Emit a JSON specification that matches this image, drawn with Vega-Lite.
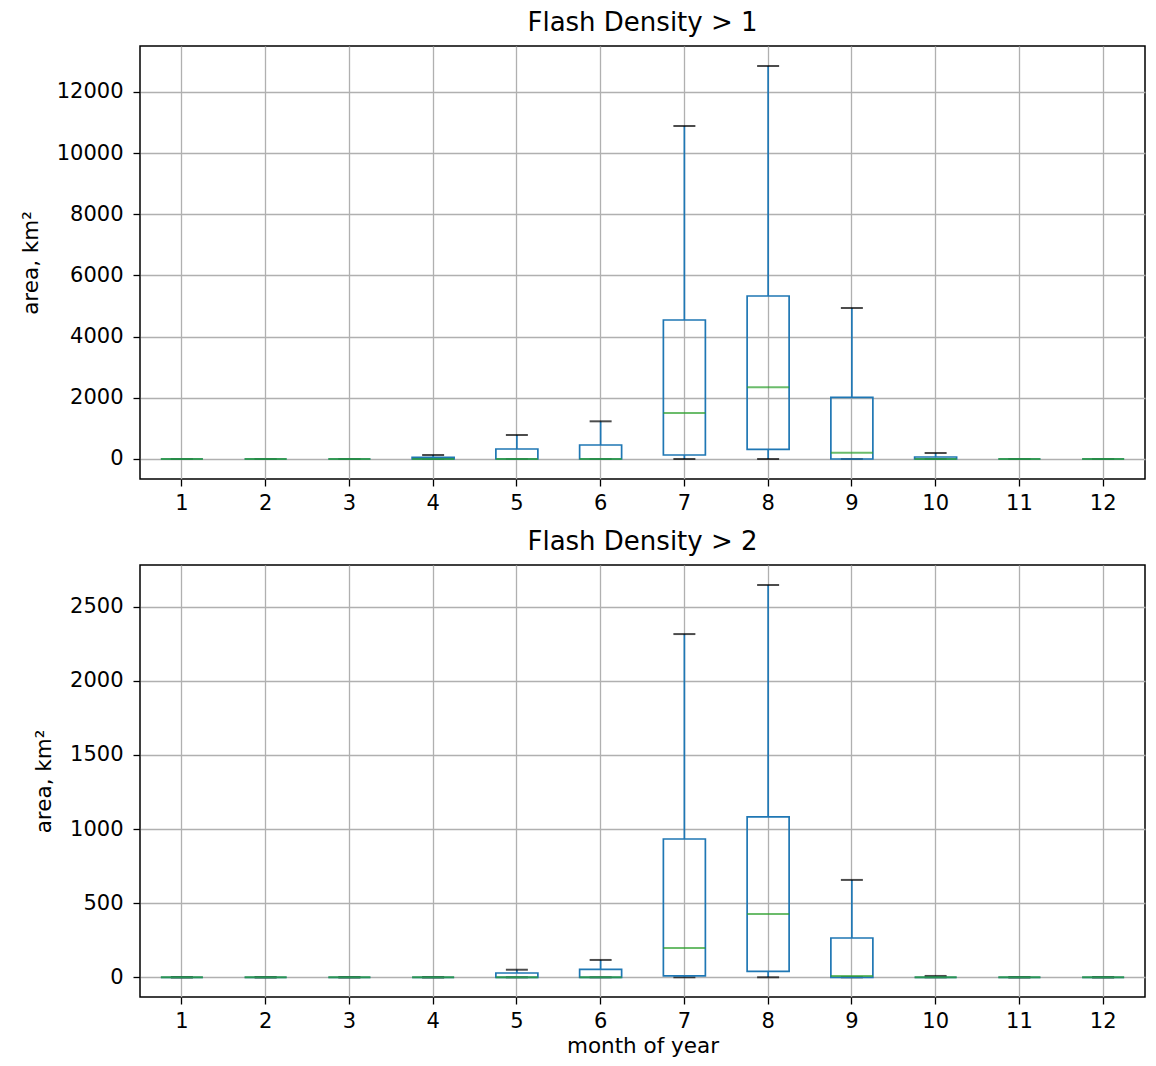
{
  "$schema": "https://vega.github.io/schema/vega-lite/v6.json",
  "background": "white",
  "padding": {"left": 19, "top": 9, "right": 5, "bottom": 5},
  "spacing": 14,
  "config": {
    "font": "DejaVu Sans",
    "view": {"stroke": "#000000", "strokeWidth": 1.5},
    "axis": {
      "labelFont": "DejaVu Sans",
      "labelFontSize": 21,
      "labelColor": "#000000",
      "titleFont": "DejaVu Sans",
      "titleFontSize": 21.5,
      "titleFontWeight": "normal",
      "titleColor": "#000000",
      "domain": false,
      "grid": true,
      "gridColor": "#b0b0b0",
      "gridWidth": 1.3,
      "tickColor": "#000000",
      "tickSize": 7,
      "tickWidth": 1.3
    },
    "axisY": {"labelPadding": 10, "format": "d"},
    "axisX": {"labelPadding": 6},
    "title": {"font": "DejaVu Sans", "fontSize": 26, "fontWeight": "normal", "color": "#000000", "offset": 10}
  },
  "datasets": {
    "d1": [
      {"month": 1, "min": 0, "q1": 0, "median": 0, "q3": 0, "max": 0},
      {"month": 2, "min": 0, "q1": 0, "median": 0, "q3": 0, "max": 0},
      {"month": 3, "min": 0, "q1": 0, "median": 0, "q3": 0, "max": 0},
      {"month": 4, "min": 0, "q1": 0, "median": 0, "q3": 50, "max": 130},
      {"month": 5, "min": 0, "q1": 0, "median": 0, "q3": 327, "max": 785},
      {"month": 6, "min": 0, "q1": 0, "median": 0, "q3": 458, "max": 1232},
      {"month": 7, "min": 0, "q1": 131, "median": 1504, "q3": 4545, "max": 10888},
      {"month": 8, "min": 0, "q1": 317, "median": 2344, "q3": 5330, "max": 12850},
      {"month": 9, "min": 0, "q1": 0, "median": 206, "q3": 2017, "max": 4937},
      {"month": 10, "min": 0, "q1": 0, "median": 0, "q3": 65, "max": 196},
      {"month": 11, "min": 0, "q1": 0, "median": 0, "q3": 0, "max": 0},
      {"month": 12, "min": 0, "q1": 0, "median": 0, "q3": 0, "max": 0}
    ],
    "d2": [
      {"month": 1, "min": 0, "q1": 0, "median": 0, "q3": 0, "max": 0},
      {"month": 2, "min": 0, "q1": 0, "median": 0, "q3": 0, "max": 0},
      {"month": 3, "min": 0, "q1": 0, "median": 0, "q3": 0, "max": 0},
      {"month": 4, "min": 0, "q1": 0, "median": 0, "q3": 0, "max": 0},
      {"month": 5, "min": 0, "q1": 0, "median": 0, "q3": 29, "max": 51},
      {"month": 6, "min": 0, "q1": 0, "median": 0, "q3": 54, "max": 117},
      {"month": 7, "min": 0, "q1": 9, "median": 198, "q3": 933, "max": 2316},
      {"month": 8, "min": 0, "q1": 40, "median": 427, "q3": 1083, "max": 2647},
      {"month": 9, "min": 0, "q1": 0, "median": 9, "q3": 265, "max": 657},
      {"month": 10, "min": 0, "q1": 0, "median": 0, "q3": 0, "max": 9},
      {"month": 11, "min": 0, "q1": 0, "median": 0, "q3": 0, "max": 0},
      {"month": 12, "min": 0, "q1": 0, "median": 0, "q3": 0, "max": 0}
    ]
  },
  "vconcat": [
    {
      "title": "Flash Density > 1",
      "width": 1005,
      "height": 433,
      "data": {"name": "d1"},
      "encoding": {
        "x": {"field": "month", "type": "ordinal", "scale": {"paddingInner": 0, "paddingOuter": 0}, "axis": {"labelAngle": 0, "title": null}}
      },
      "layer": [
        {
          "mark": {"type": "rule", "color": "#1f77b4", "strokeWidth": 1.7},
          "encoding": {
            "y": {"field": "min", "type": "quantitative", "scale": {"domain": [-654, 13504], "nice": false, "zero": false}, "axis": {"values": [0, 2000, 4000, 6000, 8000, 10000, 12000], "title": "area, km²", "titlePadding": 14}},
            "y2": {"field": "q1"}
          }
        },
        {
          "mark": {"type": "rule", "color": "#1f77b4", "strokeWidth": 1.7},
          "encoding": {"y": {"field": "q3", "type": "quantitative"}, "y2": {"field": "max"}}
        },
        {
          "mark": {"type": "tick", "color": "#000000", "size": 22, "thickness": 2},
          "encoding": {"y": {"field": "max", "type": "quantitative"}}
        },
        {
          "mark": {"type": "tick", "color": "#000000", "size": 22, "thickness": 2},
          "encoding": {"y": {"field": "min", "type": "quantitative"}}
        },
        {
          "mark": {"type": "bar", "fill": null, "fillOpacity": 0, "stroke": "#1f77b4", "strokeWidth": 1.7, "size": 42},
          "encoding": {"y": {"field": "q1", "type": "quantitative"}, "y2": {"field": "q3"}}
        },
        {
          "mark": {"type": "tick", "color": "#2ca02c", "size": 42, "thickness": 2},
          "encoding": {"y": {"field": "median", "type": "quantitative"}}
        }
      ]
    },
    {
      "title": "Flash Density > 2",
      "width": 1005,
      "height": 432,
      "data": {"name": "d2"},
      "encoding": {
        "x": {"field": "month", "type": "ordinal", "scale": {"paddingInner": 0, "paddingOuter": 0}, "axis": {"labelAngle": 0, "title": "month of year", "titlePadding": 4}}
      },
      "layer": [
        {
          "mark": {"type": "rule", "color": "#1f77b4", "strokeWidth": 1.7},
          "encoding": {
            "y": {"field": "min", "type": "quantitative", "scale": {"domain": [-133, 2782], "nice": false, "zero": false}, "axis": {"values": [0, 500, 1000, 1500, 2000, 2500], "title": "area, km²", "titlePadding": 14}},
            "y2": {"field": "q1"}
          }
        },
        {
          "mark": {"type": "rule", "color": "#1f77b4", "strokeWidth": 1.7},
          "encoding": {"y": {"field": "q3", "type": "quantitative"}, "y2": {"field": "max"}}
        },
        {
          "mark": {"type": "tick", "color": "#000000", "size": 22, "thickness": 2},
          "encoding": {"y": {"field": "max", "type": "quantitative"}}
        },
        {
          "mark": {"type": "tick", "color": "#000000", "size": 22, "thickness": 2},
          "encoding": {"y": {"field": "min", "type": "quantitative"}}
        },
        {
          "mark": {"type": "bar", "fill": null, "fillOpacity": 0, "stroke": "#1f77b4", "strokeWidth": 1.7, "size": 42},
          "encoding": {"y": {"field": "q1", "type": "quantitative"}, "y2": {"field": "q3"}}
        },
        {
          "mark": {"type": "tick", "color": "#2ca02c", "size": 42, "thickness": 2},
          "encoding": {"y": {"field": "median", "type": "quantitative"}}
        }
      ]
    }
  ]
}
